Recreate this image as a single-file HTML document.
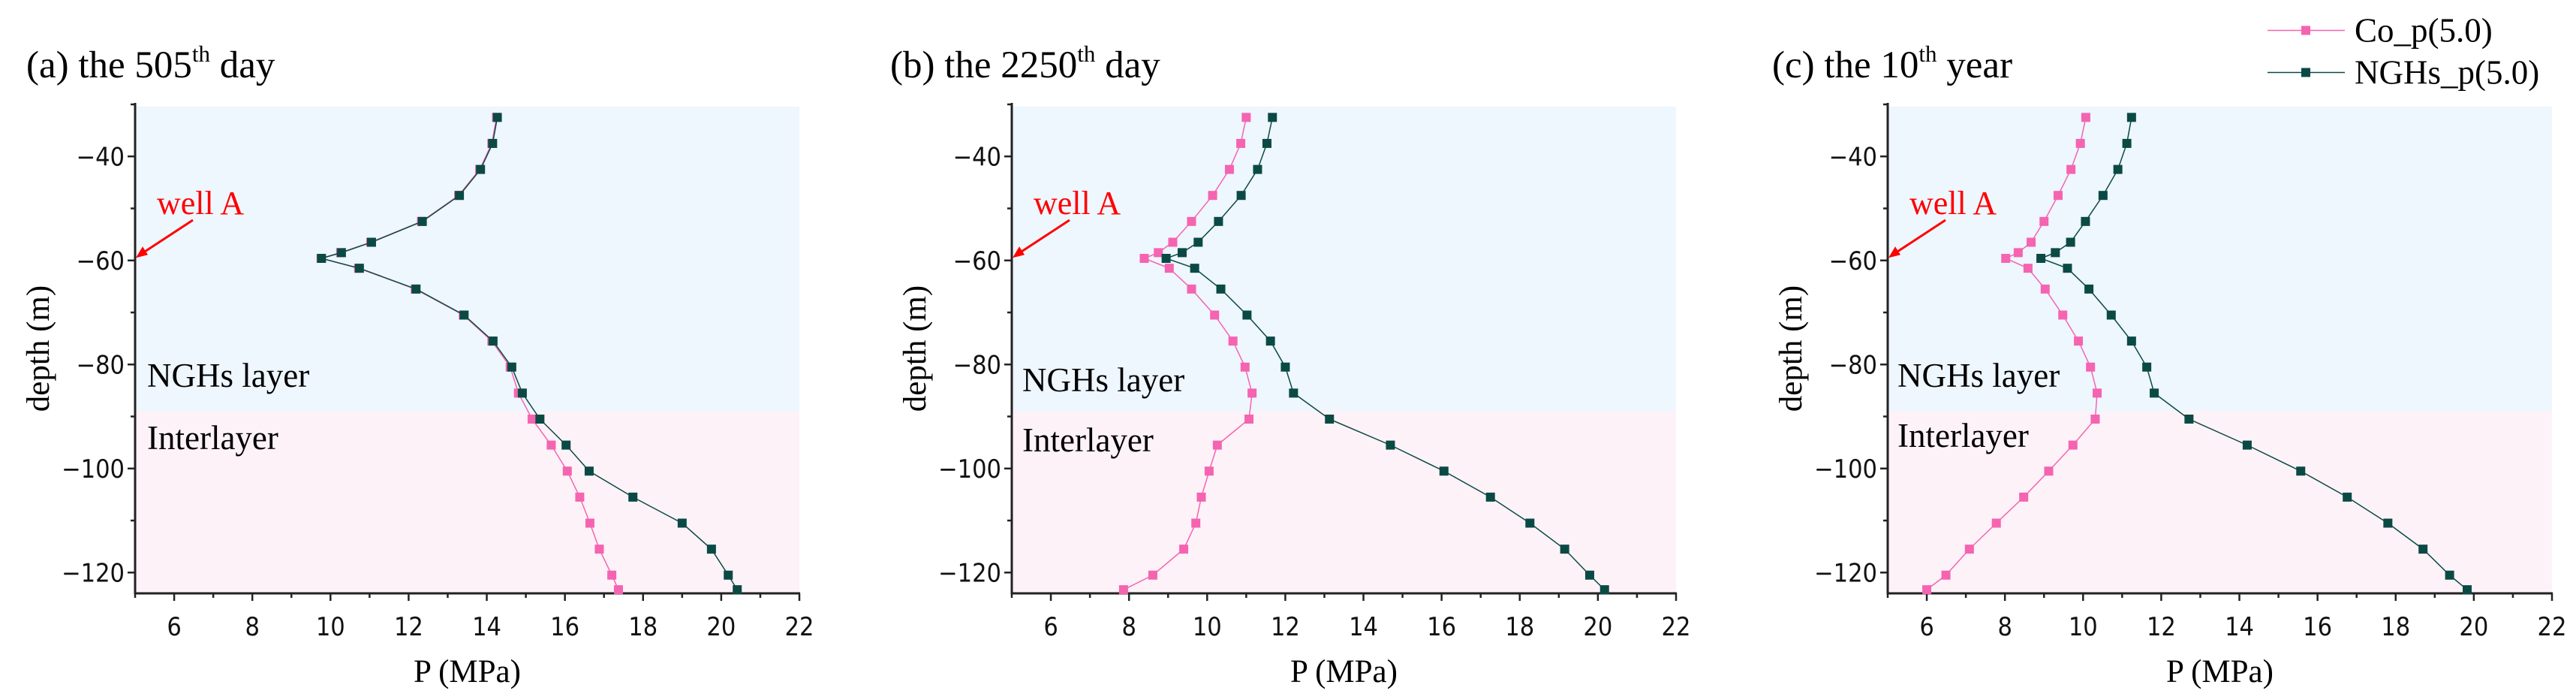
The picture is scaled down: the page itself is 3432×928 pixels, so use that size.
<!DOCTYPE html>
<html><head><meta charset="utf-8"><style>
html,body{margin:0;padding:0;background:#fff}
svg{display:block;font-family:"Liberation Serif",serif}
.tk{font-family:"DejaVu Sans Condensed","Liberation Sans",sans-serif;font-size:34px;fill:#111}
</style></head><body>
<svg id="fig" width="3432" height="928" viewBox="0 0 3432 928" xmlns="http://www.w3.org/2000/svg"></svg>
<script>
const depths=[-32.5,-37.5,-42.5,-47.5,-52.5,-56.5,-58.5,-59.6,-61.5,-65.5,-70.5,-75.5,-80.5,-85.5,-90.5,-95.5,-100.5,-105.5,-110.5,-115.5,-120.5,-123.3];
const coA=[14.25,14.13,13.82,13.28,12.33,11.03,10.26,9.76,10.72,12.17,13.40,14.13,14.60,14.81,15.16,15.65,16.06,16.38,16.64,16.88,17.20,17.37];
const ngA=[14.27,14.15,13.84,13.30,12.35,11.05,10.28,9.77,10.74,12.19,13.42,14.16,14.64,14.91,15.36,16.03,16.62,17.74,19.00,19.75,20.18,20.41];
const coB=[11.00,10.86,10.57,10.14,9.60,9.12,8.75,8.39,9.03,9.60,10.19,10.66,10.97,11.15,11.07,10.26,10.05,9.85,9.71,9.40,8.61,7.86];
const ngB=[11.67,11.53,11.29,10.87,10.29,9.77,9.36,8.95,9.68,10.35,11.02,11.62,12.00,12.21,13.13,14.69,16.06,17.25,18.26,19.15,19.79,20.17];
const coC=[10.07,9.93,9.69,9.36,9.00,8.67,8.34,8.02,8.59,9.03,9.48,9.88,10.19,10.36,10.31,9.74,9.12,8.48,7.78,7.09,6.49,6.00];
const ngC=[11.24,11.12,10.89,10.51,10.06,9.68,9.29,8.92,9.60,10.15,10.72,11.24,11.63,11.82,12.71,14.20,15.57,16.76,17.80,18.70,19.38,19.83];
const xTicks=[6,8,10,12,14,16,18,20,22];
const yTicks=[-40,-60,-80,-100,-120];
const titles=[["(a) the 505","th"," day"],["(b) the 2250","th"," day"],["(c) the 10","th"," year"]];
const NS="http://www.w3.org/2000/svg";
const svg=document.getElementById('fig');
function mk(tag,attrs,parent,text){const e=document.createElementNS(NS,tag);for(const k in attrs)e.setAttribute(k,attrs[k]);if(text!==undefined)e.textContent=text;(parent||svg).appendChild(e);return e;}
const panels=[{x0:180,co:coA,ng:ngA,tx:35,nl:[196,515,598]},{x0:1348,co:coB,ng:ngB,tx:1186,nl:[1362,521,601]},{x0:2515,co:coC,ng:ngC,tx:2361,nl:[2528,515,595]}];
const W=885,Y0=139,Y1=790,DT=-30,DB=-124;
panels.forEach((p,i)=>{
  const g=mk('g',{});
  
  
  const X=v=>p.x0+(v-5)/17*W;
  const Y=d=>Y0+(DT-d)/(DT-DB)*(Y1-Y0);
  const b1=mk('rect',{x:p.x0,y:Y(-30.4),width:W,height:Y(-89)-Y(-30.4),fill:'#eef6fe'},g);
  
  const b2=mk('rect',{x:p.x0,y:Y(-89),width:W,height:Y1-Y(-89),fill:'#fdf2f8'},g);
  
  mk('line',{x1:p.x0,y1:Y0-2,x2:p.x0,y2:Y1+1.5,stroke:'#222',"stroke-width":3},g);
  mk('line',{x1:p.x0-1.5,y1:Y1,x2:p.x0+W+1,y2:Y1,stroke:'#222',"stroke-width":3},g);
  for(let v=5;v<=22;v++){const major=xTicks.includes(v);mk('line',{x1:X(v),y1:Y1,x2:X(v),y2:Y1+(major?10:6),stroke:'#222',"stroke-width":2.5},g);}
  xTicks.forEach(v=>{const t=mk('text',{x:X(v),y:846,"text-anchor":"middle",class:"tk"},g,String(v));});
  for(let d=-30;d>=-120;d-=10){const major=yTicks.includes(d);mk('line',{x1:p.x0,y1:Y(d),x2:p.x0-(major?10:6),y2:Y(d),stroke:'#222',"stroke-width":2.5},g);}
  yTicks.forEach(d=>{const t=mk('text',{x:p.x0-14,y:Y(d)+12,"text-anchor":"end",class:"tk"},g,'\u2212'+String(-d));});
  const xt=mk('text',{x:X(13.5),y:908,"text-anchor":"middle","font-size":43},g,'P (MPa)');
  
  const yt=mk('text',{x:0,y:0,"text-anchor":"middle","font-size":43,transform:`translate(${p.x0-115},464) rotate(-90)`},g,'depth (m)');
  
  const tt=mk('text',{x:p.tx,y:103,"font-size":51},g);
  
  mk('tspan',{},tt,titles[i][0]);mk('tspan',{"font-size":31,dy:-21},tt,titles[i][1]);mk('tspan',{dy:21},tt,titles[i][2]);
  const n1=mk('text',{x:p.nl[0],y:p.nl[1],"font-size":45},g,'NGHs layer');
  const n2=mk('text',{x:p.nl[0],y:p.nl[2],"font-size":45},g,'Interlayer');
  [[p.co,'#f564b0','co'],[p.ng,'#0b4a44','ngh']].forEach(([vals,col,nm])=>{
    const pts=vals.map((v,k)=>X(v)+','+Y(depths[k])).join(' ');
    const l=mk('polyline',{points:pts,fill:'none',stroke:col,"stroke-width":1.5},g);
    
    vals.forEach((v,k)=>{const r=mk('rect',{x:X(v)-6,y:Y(depths[k])-6,width:12,height:12,fill:col},g);
      });
  });
  const wx=p.x0+29;
  const wa=mk('text',{x:wx,y:285,"font-size":44,fill:'#f00'},g,'well A');
  const ax1=p.x0+77,ay1=293,ax2=p.x0+1,ay2=Y(-59.5);
  mk('line',{x1:ax1,y1:ay1,x2:ax2+10,y2:ay2-7,stroke:'#f00',"stroke-width":3},g);
  const ar=mk('polygon',{points:`${ax2},${ay2} ${ax2+9},${ay2-15} ${ax2+16},${ay2-4}`,fill:'#f00'},g);
  
});
const lg=mk('g',{});


[['Co_p(5.0)','#f564b0',40.5],['NGHs_p(5.0)','#0b4a44',96.5]].forEach(([t,c,y])=>{
  mk('line',{x1:3021,y1:y,x2:3124,y2:y,stroke:c,"stroke-width":1.5},lg);
  mk('rect',{x:3066,y:y-6,width:12,height:12,fill:c},lg);
  const tx=mk('text',{x:3137,y:y+15,"font-size":45},lg,t);
  
});
</script>
</body></html>
